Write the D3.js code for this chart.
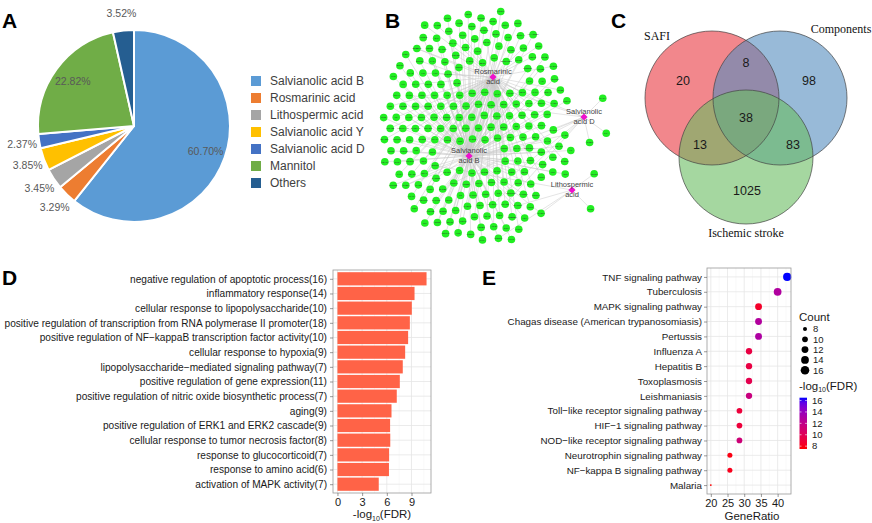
<!DOCTYPE html>
<html><head><meta charset="utf-8">
<script src="https://cdn.jsdelivr.net/npm/d3@7"></script>
<style>
body{margin:0;background:#fff}
svg{display:block}
text{font-family:"Liberation Sans",Arial,sans-serif}
</style>
</head><body>
<svg id="chart" width="872" height="523"></svg>
<script>
// ---------------- DATA ----------------
// Panel A
const pieLabels = ["Salvianolic acid B","Rosmarinic acid","Lithospermic acid","Salvianolic acid Y","Salvianolic acid D","Mannitol","Others"];
const pieValues = [60.70, 3.29, 3.45, 3.85, 2.37, 22.82, 3.52];
const pieColors = ["#5B9BD5","#ED7D31","#A5A5A5","#FFC000","#4472C4","#70AD47","#255E91"];

// Panel B
const hubNames = ["Rosmarinic acid","Salvianolic acid B","Salvianolic acid D","Lithospermic acid"];
const hubCodes = {R:[0],B:[1],X:[0,1],D:[2],E:[1,2],F:[0,2],L:[3],G:[1,3]};
const geneNames = ["AKT1","TNF","IL6","VEGFA","CASP3","MAPK1","MAPK3","PTGS2","MMP9","EGFR",
"JUN","STAT3","TP53","MAPK8","MAPK14","NOS3","NOS2","HIF1A","IL1B","CXCL8",
"MMP2","SRC","ESR1","PPARG","BCL2","BAX","CCND1","MYC","FOS","NFKB1",
"RELA","IKBKB","TLR4","ICAM1","VCAM1","SELE","HMOX1","NFE2L2","SOD1","SOD2",
"CAT","GPX1","ALB","INS","IGF1","EDN1","REN","ACE","AGTR1","F2",
"F10","PLAT","PLAU","SERPINE1","MPO","CRP","APP","BACE1","GSK3B","CDK2",
"CDK4","CDK1","PARP1","CHEK1","KDR","FLT1","FGF2","PDGFRB","ERBB2","MET",
"IGF1R","INSR","PIK3CA","PIK3R1","MTOR","PTEN","MDM2","XIAP","BIRC5","CASP8",
"CASP9","CYCS","APAF1","FASLG","FAS","TNFRSF1A","IL10","IL4","IL2","IFNG",
"CCL2","CXCL12","CXCR4","TGFB1","SMAD3","CTNNB1","CDH1","VIM","SNAI1","TWIST1",
"MMP1","MMP3","MMP7","MMP13","TIMP1","ADAM17","ALOX5","ALOX15","PTGS1","PLA2G4A",
"LTA4H","CYP1A1","CYP1B1","CYP3A4","CYP2C9","CYP19A1","AR","PGR","ESR2","NR3C1",
"RXRA","PPARA","PPARD","SIRT1","PRKCA","PRKCB","PRKACA","ROCK1","RHOA","RAC1",
"HRAS","KRAS","RAF1","BRAF","MAP2K1","MAP3K5","JAK2","JAK1","STAT1","SYK",
"LCK","FYN","LYN","ABL1","KIT","FLT3","AURKA","PLK1","TOP2A","HSP90AA1",
"HSPA5","HSPB1","DNMT1","HDAC1","HDAC2","EP300","CREBBP","ADRB2","ADRA1A","DRD2",
"HTR2A","CHRM1","GRIN1","SLC6A4","ACHE","BCHE","MAOA","MAOB","COMT","XDH",
"ADA","AKR1B1","ALDH2","HPGDS","PTPN1","PTPN11","DPP4","GCK","PYGL","FABP4",
"LPL","APOB","LDLR","HMGCR","CETP","PCSK9","SREBF1","FASN","ACACA","CPT1A",
"UCP1","LEP","ADIPOQ","NR1H3","THRB","VDR","KEAP1","NQO1","GSTP1","TXN",
"PRDX1","CD40LG","CD36","ITGB3","ITGA2B","GP1BA","VWF","F3","F7","THBD",
"PROC","KLK1","CMA1","CTSB","CTSD","CTSK","CTSS","ELANE","HLA-DRB1","IL17A",
"IL23A","IL1A","IL18","NLRP3","CASP1","TLR2","MYD88"];
const geneLinks = ["RRBRBRRBBR","RBRRBBRBRB","BRXRBBRBRB","RRBBRBEBRB","BRRBRBBRRB",
"RBBRFBRBRB","BRBBRXRBBR","RBRBBRBRGB","BBRRBBRBRB","RBDBRBBRBR",
"BRBRXBRBBE","RBBRBRBRBB","BRFBRBBRBR","RBBRBGBRBB","BRBRBBRXRB",
"RBEBRBRBBR","BRBBRBDRBB","RBRBLBRBEB","BBRBRBFBRB","RXBBRBBRGB",
"BRBDRBBRBE","RBBRXBLRBB","BDRBGBR"].join("");

// Panel C
const vennSets = ["SAFI","Components","Ischemic stroke"];
const vennRegionKeys = ["S","C","I","SC","SI","CI","SCI"];
const vennRegionCounts = [20, 98, 1025, 8, 13, 83, 38];

// Panel D
const goTerms = ["negative regulation of apoptotic process(16)","inflammatory response(14)",
"cellular response to lipopolysaccharide(10)",
"positive regulation of transcription from RNA polymerase II promoter(18)",
"positive regulation of NF\u2212kappaB transcription factor activity(10)",
"cellular response to hypoxia(9)","lipopolysaccharide\u2212mediated signaling pathway(7)",
"positive regulation of gene expression(11)","positive regulation of nitric oxide biosynthetic process(7)",
"aging(9)","positive regulation of ERK1 and ERK2 cascade(9)","cellular response to tumor necrosis factor(8)",
"response to glucocorticoid(7)","response to amino acid(6)","activation of MAPK activity(7)"];
const goLogFDR = [10.83, 9.37, 9.04, 8.80, 8.59, 8.23, 7.94, 7.58, 7.21, 6.57, 6.40, 6.42, 6.28, 6.26, 5.02];
const goTicks = [0, 3, 6, 9];

// Panel E
const keggTerms = ["TNF signaling pathway","Tuberculosis","MAPK signaling pathway",
"Chagas disease (American trypanosomiasis)","Pertussis","Influenza A","Hepatitis B",
"Toxoplasmosis","Leishmaniasis","Toll\u2212like receptor signaling pathway","HIF\u22121 signaling pathway",
"NOD\u2212like receptor signaling pathway","Neurotrophin signaling pathway","NF\u2212kappa B signaling pathway","Malaria"];
const keggCount = [15, 14, 12, 12, 12, 11, 11, 11, 11, 10, 10, 10, 9, 9, 7];
const keggRatio = [42.86, 40.00, 34.29, 34.29, 34.29, 31.43, 31.43, 31.43, 31.43, 28.57, 28.57, 28.57, 25.71, 25.71, 20.00];
const keggLogFDR = [16.5, 12.9, 8.4, 12.8, 13.0, 9.3, 9.3, 9.7, 11.6, 9.0, 9.0, 11.3, 7.8, 8.0, 7.5];
const keggXTicks = [20, 25, 30, 35, 40];
const countBreaks = [8, 10, 12, 14, 16];
const fdrBreaks = [8, 10, 12, 14, 16];

// ---------------- DRAW ----------------
const svg = d3.select("#chart");
svg.append("rect").attr("width",872).attr("height",523).attr("fill","#fff");

function panelLetter(t, x, y){
  svg.append("text").attr("x",x).attr("y",y).text(t)
    .attr("font-size",21).attr("font-weight","bold").attr("fill","#000");
}
panelLetter("A",2,28); panelLetter("B",385,28); panelLetter("C",611,28);
panelLetter("D",2,285); panelLetter("E",482,285);

// ===== Panel A: pie =====
(function(){
  const cx = 134, cy = 126, R = 96;
  const g = svg.append("g").attr("transform",`translate(${cx},${cy})`);
  const pie = d3.pie().sort(null).value(d=>d)(pieValues);
  const arc = d3.arc().innerRadius(0).outerRadius(R);
  g.selectAll("path").data(pie).join("path")
    .attr("d",arc).attr("fill",(d,i)=>pieColors[i])
    .attr("stroke","#fff").attr("stroke-width",2).attr("stroke-linejoin","round");
  const inArc = d3.arc().innerRadius(R*0.79).outerRadius(R*0.79);
  const outArc = d3.arc().innerRadius(R*1.18).outerRadius(R*1.18);
  g.selectAll("text.lab").data(pie).join("text").attr("class","lab")
    .attr("transform",d=>{
      const big = (d.endAngle-d.startAngle) > 0.5;
      const p = (big?inArc:outArc).centroid(d);
      return `translate(${p[0]},${p[1]})`;
    })
    .attr("text-anchor","middle").attr("dy","0.35em")
    .attr("font-size",10.5).attr("fill","#595959")
    .text(d=>d.value.toFixed(2)+"%");
  // legend
  const lg = svg.append("g").attr("transform","translate(251,81)");
  const items = lg.selectAll("g").data(pieLabels).join("g")
    .attr("transform",(d,i)=>`translate(0,${i*17})`);
  items.append("rect").attr("x",0).attr("y",-5).attr("width",10).attr("height",10)
    .attr("fill",(d,i)=>pieColors[i]);
  items.append("text").attr("x",19).attr("dy","0.35em").attr("font-size",12)
    .attr("fill","#404040").text(d=>d);
})();

// ===== Panel B: network =====
(function(){
  const center = {x:476, y:126};
  const hubPos = [[493,77],[469,156],[584,117],[572,190]];
  const hubs = hubNames.map((n,i)=>({id:n, hub:true, fx:hubPos[i][0]-center.x, fy:hubPos[i][1]-center.y}));
  // invisible pinned spacers that keep gene nodes clear of the hub labels
  const spacers = [];
  hubs.forEach(h=>[-15,15].forEach(dx=>spacers.push({spacer:true, fx:h.fx+dx, fy:h.fy})));
  const genes = geneNames.map((n,i)=>({id:n, hub:false, code:geneLinks[i]}));
  const isOuter = d => d.code==="D" || d.code==="L";
  const links = [];
  genes.forEach(gn=>{
    hubCodes[gn.code].forEach(h=>links.push({source:gn, target:hubs[h], outer:isOuter(gn)}));
  });
  const nodes = hubs.concat(spacers, genes);
  const sim = d3.forceSimulation(nodes)
    .force("link", d3.forceLink(links).distance(d=>d.outer?26:45).strength(d=>d.outer?0.4:0.015))
    .force("charge", d3.forceManyBody().strength(d=>d.spacer?0:-6).distanceMax(35))
    .force("collide", d3.forceCollide(d=>d.hub?11:(d.spacer?10:6.3)).iterations(4))
    .force("x", d3.forceX(0).strength(d=>(d.spacer||isOuter(d))?0.0:0.035))
    .force("y", d3.forceY(0).strength(d=>(d.spacer||isOuter(d))?0.0:0.019))
    .stop();
  for(let i=0;i<450;i++) sim.tick();
  const g = svg.append("g").attr("transform",`translate(${center.x},${center.y})`);
  g.selectAll("line").data(links).join("line")
    .attr("x1",d=>d.source.x).attr("y1",d=>d.source.y)
    .attr("x2",d=>d.target.x).attr("y2",d=>d.target.y)
    .attr("stroke","#c8c8c8").attr("stroke-width",0.5);
  const gn = g.selectAll("g.gene").data(genes).join("g").attr("class","gene")
    .attr("transform",d=>`translate(${d.x},${d.y})`);
  gn.append("circle").attr("r",3.8).attr("fill","#22EE22");
  gn.append("text").attr("text-anchor","middle").attr("dy","0.35em")
    .attr("font-size",2.2).attr("fill","#333").text(d=>d.id);
  const hg = g.selectAll("g.hub").data(hubs).join("g").attr("class","hub")
    .attr("transform",d=>`translate(${d.x},${d.y})`);
  hg.append("path").attr("d",d3.symbol(d3.symbolSquare,26)()).attr("transform","rotate(45)")
    .attr("fill","#EE11CC");
  hg.append("text").attr("text-anchor","middle").attr("y",-3).attr("font-size",7.5).attr("fill","#444")
    .text(d=>d.id.split(" ").slice(0,1).join(" "));
  hg.append("text").attr("text-anchor","middle").attr("y",7).attr("font-size",7.5).attr("fill","#444")
    .text(d=>d.id.split(" ").slice(1).join(" "));
})();

// ===== Panel C: Venn =====
(function(){
  const R = 67;
  const circles = [
    {cx:712, cy:98, fill:"rgb(233,55,63)"},
    {cx:780, cy:98, fill:"rgb(83,140,190)"},
    {cx:746, cy:157, fill:"rgb(105,188,97)"}];
  const g = svg.append("g");
  g.selectAll("circle.f").data(circles).join("circle").attr("class","f")
    .attr("cx",d=>d.cx).attr("cy",d=>d.cy).attr("r",R)
    .attr("fill",d=>d.fill).attr("fill-opacity",0.6);
  g.selectAll("circle.s").data(circles).join("circle").attr("class","s")
    .attr("cx",d=>d.cx).attr("cy",d=>d.cy).attr("r",R)
    .attr("fill","none").attr("stroke","#444").attr("stroke-width",0.7);
  const labelPos = {S:[683,81],C:[809,81],I:[747,191],SC:[746,63],SI:[700,145],CI:[793,145],SCI:[746,118]};
  g.selectAll("text.n").data(vennRegionKeys).join("text").attr("class","n")
    .attr("x",k=>labelPos[k][0]).attr("y",k=>labelPos[k][1]).attr("dy","0.35em")
    .attr("text-anchor","middle").attr("font-size",12.5).attr("fill","#1a1a1a")
    .text((k,i)=>vennRegionCounts[i]);
  const setPos = [[657,40],[841,33],[746,237]];
  g.selectAll("text.t").data(vennSets).join("text").attr("class","t")
    .attr("x",(d,i)=>setPos[i][0]).attr("y",(d,i)=>setPos[i][1])
    .attr("text-anchor","middle").attr("font-size",12)
    .style("font-family","'Liberation Serif','Times New Roman',serif").attr("fill","#111")
    .text(d=>d);
})();

// helpers for ggplot-like panels
function ggPanel(x0,x1,y0,y1,xScale,yScale,majorX,minorX,cats){
  const g = svg.append("g");
  g.selectAll("line.minx").data(minorX).join("line")
    .attr("x1",d=>xScale(d)).attr("x2",d=>xScale(d)).attr("y1",y0).attr("y2",y1)
    .attr("stroke","#f2f2f2").attr("stroke-width",0.5);
  g.selectAll("line.majx").data(majorX).join("line")
    .attr("x1",d=>xScale(d)).attr("x2",d=>xScale(d)).attr("y1",y0).attr("y2",y1)
    .attr("stroke","#e6e6e6").attr("stroke-width",0.8);
  g.selectAll("line.majy").data(cats).join("line")
    .attr("x1",x0).attr("x2",x1).attr("y1",d=>yScale(d)).attr("y2",d=>yScale(d))
    .attr("stroke","#e6e6e6").attr("stroke-width",0.8);
  return g;
}
function styleAxis(sel, fs){
  sel.select(".domain").remove();
  sel.selectAll(".tick line").attr("stroke","#555").attr("stroke-width",0.6);
  sel.selectAll(".tick text").attr("fill","#1a1a1a").attr("font-size",fs)
    .style("font-family","'Liberation Sans',Arial,sans-serif");
}

// ===== Panel D: bars =====
(function(){
  const x0=333, x1=431, y0=270, y1=493;
  const mx = d3.max(goLogFDR), pad = mx*0.05;
  const x = d3.scaleLinear().domain([-pad, mx+pad]).range([x0,x1]);
  const y = d3.scalePoint().domain(goTerms).range([y0,y1]).padding(0.6);
  ggPanel(x0,x1,y0,y1,x,y,goTicks,[1.5,4.5,7.5,10.5],goTerms);
  const bh = y.step()*0.9;
  svg.append("g").selectAll("rect").data(goTerms).join("rect")
    .attr("x",x(0)).attr("y",d=>y(d)-bh/2)
    .attr("width",(d,i)=>x(goLogFDR[i])-x(0)).attr("height",bh)
    .attr("fill","#FF6347");
  svg.append("rect").attr("x",x0).attr("y",y0).attr("width",x1-x0).attr("height",y1-y0)
    .attr("fill","none").attr("stroke","#999").attr("stroke-width",0.8);
  const ax = svg.append("g").attr("transform",`translate(0,${y1})`)
    .call(d3.axisBottom(x).tickValues(goTicks).tickSize(3).tickPadding(2));
  styleAxis(ax, 11);
  const ay = svg.append("g").attr("transform",`translate(${x0},0)`)
    .call(d3.axisLeft(y).tickSize(3).tickPadding(3));
  styleAxis(ay, 10.15);
  const t = svg.append("text").attr("x",(x0+x1)/2).attr("y",518).attr("text-anchor","middle")
    .attr("font-size",11.5).attr("fill","#1a1a1a");
  t.append("tspan").text("-log");
  t.append("tspan").attr("font-size",7).attr("dy",3).text("10");
  t.append("tspan").attr("dy",-3).text("(FDR)");
})();

// ===== Panel E: dots =====
(function(){
  const x0=707, x1=791, y0=268, y1=494;
  const [mn,mxv] = d3.extent(keggRatio), pad=(mxv-mn)*0.05;
  const x = d3.scaleLinear().domain([mn-pad, mxv+pad]).range([x0,x1]);
  const y = d3.scalePoint().domain(keggTerms).range([y0,y1]).padding(0.6);
  ggPanel(x0,x1,y0,y1,x,y,keggXTicks,[22.5,27.5,32.5,37.5,42.5],keggTerms);
  const [cmin,cmax] = d3.extent(keggCount);
  const sizeT = d3.scaleLinear().domain([cmin,cmax]).range([0,1]);
  const rScale = d3.scaleLinear().domain([0,1]).range([0.9,4.1]);
  const rad = c => rScale(Math.sqrt(Math.max(0,sizeT(c))));
  const fdrDom = [7.5, 16.5];
  const col = d3.scaleLinear().domain(fdrDom).range(["red","blue"]).interpolate(d3.interpolateLab);
  svg.append("g").selectAll("circle").data(keggTerms).join("circle")
    .attr("cx",(d,i)=>x(keggRatio[i])).attr("cy",d=>y(d))
    .attr("r",(d,i)=>rad(keggCount[i])).attr("fill",(d,i)=>col(keggLogFDR[i]));
  svg.append("rect").attr("x",x0).attr("y",y0).attr("width",x1-x0).attr("height",y1-y0)
    .attr("fill","none").attr("stroke","#999").attr("stroke-width",0.8);
  const ax = svg.append("g").attr("transform",`translate(0,${y1})`)
    .call(d3.axisBottom(x).tickValues(keggXTicks).tickSize(3).tickPadding(2));
  styleAxis(ax, 11);
  const ay = svg.append("g").attr("transform",`translate(${x0},0)`)
    .call(d3.axisLeft(y).tickSize(3).tickPadding(2));
  styleAxis(ay, 9.8);
  svg.append("text").attr("x",(x0+x1)/2+3).attr("y",520).attr("text-anchor","middle")
    .attr("font-size",11.5).attr("fill","#1a1a1a").text("GeneRatio");

  // legends
  svg.append("text").attr("x",799).attr("y",321).attr("font-size",11.5).attr("fill","#1a1a1a").text("Count");
  const cl = svg.append("g").selectAll("g").data(countBreaks).join("g")
    .attr("transform",(d,i)=>`translate(805,${329+i*10.3})`);
  cl.append("circle").attr("r",d=>rad(d)).attr("fill","#000");
  cl.append("text").attr("x",8).attr("dy","0.35em").attr("font-size",9.5).attr("fill","#1a1a1a").text(d=>d);

  const t = svg.append("text").attr("x",799).attr("y",390).attr("font-size",11.5).attr("fill","#1a1a1a");
  t.append("tspan").text("-log");
  t.append("tspan").attr("font-size",7).attr("dy",2).text("10");
  t.append("tspan").attr("dy",-2).text("(FDR)");
  const barTop=397.7, barBot=449;
  const cy = d3.scaleLinear().domain(fdrDom).range([barBot,barTop]);
  const grad = svg.append("defs").append("linearGradient").attr("id","fdrgrad")
    .attr("x1",0).attr("y1",1).attr("x2",0).attr("y2",0);
  d3.range(0,1.0001,0.1).forEach(t=>{
    grad.append("stop").attr("offset",t).attr("stop-color",col(fdrDom[0]+t*(fdrDom[1]-fdrDom[0])));
  });
  svg.append("rect").attr("x",799.5).attr("y",barTop).attr("width",7.5).attr("height",barBot-barTop)
    .attr("fill","url(#fdrgrad)");
  const fl = svg.append("g").selectAll("g").data(fdrBreaks).join("g")
    .attr("transform",d=>`translate(0,${cy(d)})`);
  fl.append("line").attr("x1",799.5).attr("x2",801.5).attr("stroke","#fff").attr("stroke-width",0.6);
  fl.append("line").attr("x1",805).attr("x2",807).attr("stroke","#fff").attr("stroke-width",0.6);
  fl.append("text").attr("x",812).attr("dy","0.35em").attr("font-size",9.5).attr("fill","#1a1a1a").text(d=>d);
})();
</script>
</body></html>
